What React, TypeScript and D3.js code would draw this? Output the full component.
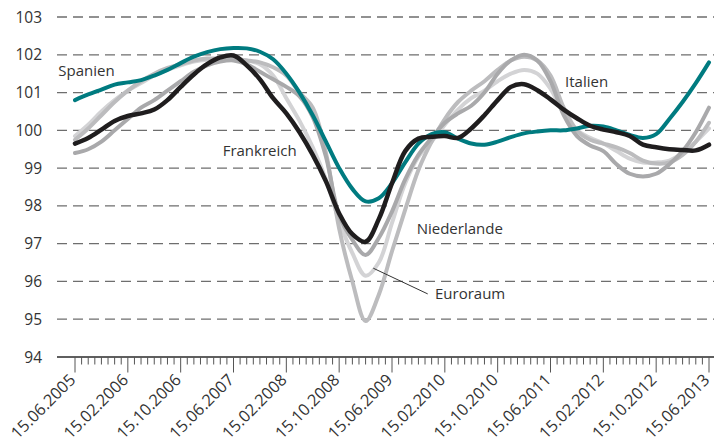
import React from 'react';
import * as d3 from 'd3';

// Index values, one point every two months from 15.06.2005 to 15.06.2013
const tickLabels = [
  '15.06.2005', '15.02.2006', '15.10.2006', '15.06.2007', '15.02.2008', '15.10.2008', '15.06.2009',
  '15.02.2010', '15.10.2010', '15.06.2011', '15.02.2012', '15.10.2012', '15.06.2013',
];

const spanien = [
  100.8, 100.95, 101.08, 101.21, 101.27, 101.33, 101.45, 101.6, 101.78, 101.95, 102.07, 102.15, 102.18,
  102.17, 102.08, 101.88, 101.5, 101.0, 100.4, 99.7, 99.0, 98.45, 98.12, 98.2, 98.6, 99.15, 99.65, 99.9,
  99.95, 99.78, 99.65, 99.62, 99.7, 99.82, 99.92, 99.97, 100.0, 100.0, 100.05, 100.12, 100.1, 100.0,
  99.88, 99.8, 99.9, 100.3, 100.75, 101.25, 101.8,
];

const frankreich = [
  99.65, 99.8, 100.02, 100.25, 100.38, 100.45, 100.55, 100.8, 101.15, 101.48, 101.75, 101.93, 101.98,
  101.72, 101.35, 100.85, 100.45, 99.95, 99.35, 98.65, 97.8, 97.25, 97.05, 97.65, 98.6, 99.45, 99.78,
  99.83, 99.85, 99.8, 100.05, 100.4, 100.8, 101.15, 101.22, 101.06, 100.82, 100.55, 100.32, 100.12,
  100.02, 99.95, 99.85, 99.62, 99.55, 99.5, 99.48, 99.47, 99.62,
];

const niederlande = [
  99.75, 100.05, 100.4, 100.75, 101.05, 101.3, 101.5, 101.65, 101.75, 101.85, 101.9, 101.9, 101.88,
  101.85, 101.8, 101.67, 101.45, 101.0, 100.6, 99.4, 97.4, 96.0, 94.95, 95.65, 96.8, 97.9, 98.95, 99.7,
  100.3, 100.75, 101.05, 101.3, 101.6, 101.85, 101.95, 101.85, 101.45, 100.6, 100.0, 99.75, 99.65,
  99.55, 99.4, 99.2, 99.12, 99.15, 99.35, 99.7, 100.2,
];

const euroraum = [
  99.85, 100.15, 100.5, 100.8, 101.05, 101.25, 101.45, 101.6, 101.72, 101.82, 101.87, 101.88, 101.88,
  101.85, 101.75, 101.45, 100.85, 100.25, 99.55, 98.7, 97.6, 96.75, 96.15, 96.5, 97.55, 98.6, 99.3, 99.7,
  100.15, 100.55, 100.85, 101.05, 101.3, 101.5, 101.6, 101.5, 101.1, 100.45, 100.0, 99.8, 99.65, 99.45,
  99.25, 99.15, 99.15, 99.2, 99.4, 99.7, 100.05,
];

const italien = [
  99.4, 99.5, 99.7, 100.0, 100.3, 100.6, 100.8, 101.05, 101.3, 101.55, 101.72, 101.82, 101.85, 101.75,
  101.55, 101.35, 101.15, 100.9, 100.35, 99.3, 97.75, 97.1, 96.7, 97.15, 97.85, 98.7, 99.35, 99.8, 100.2,
  100.45, 100.65, 101.0, 101.5, 101.85, 102.0, 101.85, 101.3, 100.4, 99.85, 99.6, 99.45, 99.1, 98.85,
  98.78, 98.85, 99.1, 99.45, 99.95, 100.6,
];

const yTicks = d3.range(94, 104);

const W = 714;
const H = 446;
const textColor = '#333';
const font = '"Open Sans", sans-serif';

const App = () => {
  const x = d3.scaleLinear().domain([0, 96]).range([75, 709]);
  const y = d3.scaleLinear().domain([94, 103]).range([357, 17]);

  const line = d3.line<number>()
    .x((d, i) => x(i * 2))
    .y(d => y(d))
    .curve(d3.curveCatmullRom.alpha(0.5));

  // drawing order: grey lines below, Spain and France on top
  const series = [
    { name: 'Euroraum', values: euroraum, color: '#d3d3d5', width: 4 },
    { name: 'Niederlande', values: niederlande, color: '#bcbcbe', width: 4 },
    { name: 'Italien', values: italien, color: '#a9a9ab', width: 4 },
    { name: 'Spanien', values: spanien, color: '#007b80', width: 4 },
    { name: 'Frankreich', values: frankreich, color: '#1f1d1e', width: 4.5 },
  ];

  // annotation anchors in data space (month index, value)
  const labels = [
    { text: 'Spanien', m: -2.53, v: 101.44 },
    { text: 'Frankreich', m: 22.36, v: 99.32 },
    { text: 'Niederlande', m: 51.74, v: 97.26 },
    { text: 'Euroraum', m: 54.51, v: 95.54 },
    { text: 'Italien', m: 74.2, v: 101.14 },
  ];

  const months = d3.range(0, 97);
  const x0 = 57;

  return (
    <svg width={W} height={H} style={{ position: 'absolute', left: 0, top: 0, display: 'block', background: '#fff' }}>
      {yTicks.map(t => (
        <g key={t}>
          {t > 94 && (
            <line x1={x0} x2={W} y1={y(t)} y2={y(t)} stroke="#6e6e6e" strokeWidth={1.3} strokeDasharray="10,6" />
          )}
          <text x={42} y={y(t)} dy="0.36em" textAnchor="end" fontFamily={font} fontSize={15.5} fill={textColor}>
            {t}
          </text>
        </g>
      ))}

      <line x1={x0} x2={W} y1={y(94)} y2={y(94)} stroke="#2a2a2a" strokeWidth={1.3} />
      {months.map(m => (
        <line
          key={m}
          x1={x(m)}
          x2={x(m)}
          y1={y(94)}
          y2={y(94) + (m % 8 === 0 ? 15.5 : 7.5)}
          stroke="#555"
          strokeWidth={1}
        />
      ))}
      {tickLabels.map((lab, i) => (
        <text
          key={lab}
          transform={`translate(${x(i * 8) + 1.5},${y(94) + 24}) rotate(-45)`}
          textAnchor="end"
          fontFamily={font}
          fontSize={16.3}
          fill={textColor}
        >
          {lab}
        </text>
      ))}

      {series.map(s => (
        <path key={s.name} d={line(s.values) || ''} fill="none" stroke={s.color} strokeWidth={s.width} strokeLinecap="round" strokeLinejoin="round" />
      ))}

      <line x1={x(45.17)} y1={y(96.35)} x2={x(53.41)} y2={y(95.67)} stroke="#333" strokeWidth={1} />
      {labels.map(l => (
        <text key={l.text} x={x(l.m)} y={y(l.v)} fontFamily={font} fontSize={15} fill={textColor}>
          {l.text}
        </text>
      ))}
    </svg>
  );
};

export default App;
